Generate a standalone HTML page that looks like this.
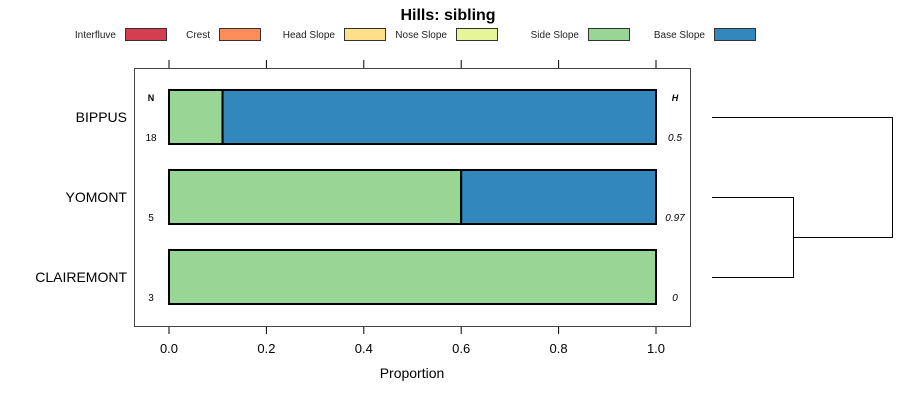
<!DOCTYPE html>
<html><head><meta charset="utf-8"><style>
body{margin:0;background:#fff;}
svg{display:block;font-family:"Liberation Sans",sans-serif;}
</style></head><body>
<svg id="c" width="900" height="400" xmlns="http://www.w3.org/2000/svg">
<text x="448" y="20" text-anchor="middle" font-size="16" font-weight="bold">Hills: sibling</text>
<g id="legend"></g>
<rect x="134.5" y="68.5" width="556" height="258" fill="none" stroke="#444"/>
<g id="plot"></g>
<text x="412" y="378" text-anchor="middle" font-size="14">Proportion</text>
<text x="151" y="101" text-anchor="middle" font-size="9" font-weight="bold">N</text>
<text x="675" y="101" text-anchor="middle" font-size="9" font-weight="bold" font-style="italic">H</text>
<g id="dendro" stroke="#000" fill="none"></g>
</svg>
<script>
const categories = ["BIPPUS","YOMONT","CLAIREMONT"];
const nValues = [18,5,3];
const hValues = ["0.5","0.97","0"];
const legendLabels = ["Interfluve","Crest","Head Slope","Nose Slope","Side Slope","Base Slope"];
const colors = ["#D53E4F","#FC8D59","#FEE08B","#E6F598","#99D594","#3288BD"];
const interfluve = [0,0,0];
const crest = [0,0,0];
const headSlope = [0,0,0];
const noseSlope = [0,0,0];
const sideSlope = [0.11,0.6,1.0];
const baseSlope = [0.89,0.4,0];
const ticks = [0,0.2,0.4,0.6,0.8,1.0];
const tickLabels = ["0.0","0.2","0.4","0.6","0.8","1.0"];

const NS="http://www.w3.org/2000/svg";
function mk(tag,attrs,parent){const e=document.createElementNS(NS,tag);for(const k in attrs)e.setAttribute(k,attrs[k]);parent.appendChild(e);return e;}
const xs=v=>169+v*487;
const yc=i=>117+i*80;
const plot=document.getElementById('plot');
const series=[interfluve,crest,headSlope,noseSlope,sideSlope,baseSlope];
// ticks
ticks.forEach((t,i)=>{
  const a=mk('line',{x1:xs(t),x2:xs(t),y1:60,y2:68,stroke:'#000'},plot);
  
  
  const b=mk('line',{x1:xs(t),x2:xs(t),y1:327,y2:334,stroke:'#000'},plot);
  
  
  const l=mk('text',{x:xs(t),y:353,'text-anchor':'middle','font-size':13},plot);
  l.textContent=tickLabels[i];
  
  
});
categories.forEach((c,i)=>{
  let cum=0;
  series.forEach((s,j)=>{
    const v=s[i]; if(v<=0)return;
    const r=mk('rect',{x:xs(cum),y:yc(i)-27,width:xs(cum+v)-xs(cum),height:54,fill:colors[j],stroke:'#000','stroke-width':2},plot);
    
    
    cum+=v;
  });
  const t=mk('text',{x:127,y:yc(i)+5,'text-anchor':'end','font-size':14},plot);
  t.textContent=c;
  
  
  const n=mk('text',{x:151,y:yc(i)+24,'text-anchor':'middle','font-size':10},plot);
  n.textContent=nValues[i];
  
  
  const h=mk('text',{x:675,y:yc(i)+24,'text-anchor':'middle','font-size':10,'font-style':'italic'},plot);
  h.textContent=hValues[i];
  
  
});
// legend
const lg=document.getElementById('legend');
const boxX=[125,219,344,456,588,714];
legendLabels.forEach((l,i)=>{
  const t=mk('text',{x:boxX[i]-9,y:38,'text-anchor':'end','font-size':10,fill:'#222'},lg);
  t.textContent=l;
  
  
  const r=mk('rect',{x:boxX[i]+0.5,y:28.5,width:41,height:12,fill:colors[i],stroke:'#333'},lg);
  
  
});
// dendrogram
const d=document.getElementById('dendro');
const p=mk('path',{d:'M712 117.5H892.5V237.5H793.5M712 197.5H793.5V277.5H712'},d);


</script>
</body></html>
